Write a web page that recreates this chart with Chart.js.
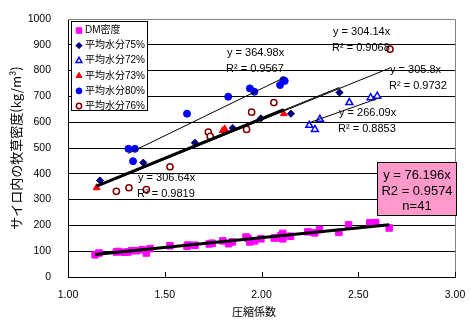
<!DOCTYPE html>
<html>
<head>
<meta charset="utf-8">
<script src="https://cdn.jsdelivr.net/npm/chart.js@4/dist/chart.umd.min.js"></script>
<style>
  html, body { margin: 0; padding: 0; background: #fff; }
</style>
</head>
<body>
<canvas id="chart-density" width="471" height="330"></canvas>
<script>
// 圧縮係数 vs サイロ内の牧草密度
const dmX = [1.14, 1.16, 1.25, 1.29, 1.31, 1.33, 1.355, 1.384, 1.405, 1.424, 1.527, 1.615, 1.62, 1.656,
  1.73, 1.745, 1.80, 1.83, 1.85, 1.92, 1.93, 1.94, 1.965, 1.997, 2.066, 2.08, 2.10, 2.11, 2.11, 2.11,
  2.15, 2.24, 2.275, 2.30, 2.40, 2.45, 2.56, 2.58, 2.59, 2.66, 1.26];
const dmY = [86, 93, 97, 96, 97, 102, 102, 106, 93, 110, 121, 119, 124, 123,
  128, 131, 140, 129, 136, 155, 150, 136, 140, 148, 151, 152, 160, 169, 148, 155,
  158, 175, 171, 184, 173, 202, 210, 210, 211, 190, 99];

const w75X = [1.165, 1.389, 1.656, 1.851, 1.997, 2.152, 2.403];
const w75Y = [374, 443, 520, 577, 615, 633, 715];

const w72X = [2.247, 2.276, 2.302, 2.454, 2.564, 2.598];
const w72Y = [588, 572, 611, 676, 695, 701];

const w73X = [1.148, 1.80, 1.81, 2.115];
const w73Y = [346, 568, 574, 633];

const w80X = [1.312, 1.336, 1.346, 1.615, 1.828, 1.94, 1.963, 2.096, 2.113, 2.12];
const w80Y = [497, 449, 497, 633, 699, 731, 718, 744, 763, 760];

const w76X = [1.25, 1.315, 1.405, 1.527, 1.725, 1.735, 1.923, 1.949, 2.064, 2.664];
const w76Y = [332, 346, 339, 427, 562, 545, 572, 639, 676, 883];

const seriesNames = ['DM密度', '平均水分75%', '平均水分72%', '平均水分73%', '平均水分80%', '平均水分76%'];
const slopes = [76.196, 305.8, 266.09, 306.64, 364.98, 304.14];
const rSquared = ['0.9574', '0.9732', '0.8853', '0.9819', '0.9567', '0.9068'];
const sampleCount = 41;

const xTicks = [1.0, 1.5, 2.0, 2.5, 3.0];

const FONT = "'Liberation Sans', Arial, 'Noto Sans CJK JP', sans-serif";
const JP_FONT = "'Noto Sans CJK JP', 'Liberation Sans', sans-serif";

const styles = [
  { pointStyle: 'rect', radius: 4.6, fill: '#FF00FF', stroke: '#FF00FF', bw: 1 },
  { pointStyle: 'rectRot', radius: 3.6, fill: '#000080', stroke: '#000080', bw: 1 },
  { pointStyle: 'triangle', radius: 4, fill: '#FFFFFF', stroke: '#0000FF', bw: 1.5 },
  { pointStyle: 'triangle', radius: 4, fill: '#FF0000', stroke: '#FF0000', bw: 1 },
  { pointStyle: 'circle', radius: 3.5, fill: '#0000FF', stroke: '#0000FF', bw: 1 },
  { pointStyle: 'circle', radius: 3.1, fill: '#FFFFFF', stroke: '#800000', bw: 1.5 }
];
const trendWidths = [3, 1, 1, 3, 1, 1];

const allX = [dmX, w75X, w72X, w73X, w80X, w76X];
const allY = [dmY, w75Y, w72Y, w73Y, w80Y, w76Y];

function toPoints(xs, ys) {
  return xs.map((x, i) => ({ x, y: ys[i] }));
}

// linear fit through the origin, drawn across the series' x range
function trendPoints(xs, slope) {
  const lo = Math.min(...xs), hi = Math.max(...xs);
  return [{ x: lo, y: slope * lo }, { x: hi, y: slope * hi }];
}

const datasets = [];
allX.forEach((xs, i) => {
  const s = styles[i];
  datasets.push({
    label: seriesNames[i], data: toPoints(xs, allY[i]), order: 2,
    pointStyle: s.pointStyle, pointRadius: s.radius, pointBackgroundColor: s.fill,
    pointBorderColor: s.stroke, pointBorderWidth: s.bw, showLine: false
  });
  datasets.push({
    label: seriesNames[i] + ' trend', data: trendPoints(xs, slopes[i]), order: 1,
    showLine: true, borderColor: '#000', borderWidth: trendWidths[i], pointRadius: 0, fill: false
  });
});

// equation labels: [series index, left, center y of first line]
const eqLabels = [
  [5, 333, 32],
  [4, 227, 53],
  [1, 390, 70],
  [2, 339, 113],
  [3, 138, 178]
];

const overlay = {
  id: 'overlay',
  afterDraw(chart) {
    const { ctx, chartArea: a, scales: { x } } = chart;
    ctx.save();

    // top / right frame
    ctx.strokeStyle = '#808080';
    ctx.lineWidth = 1;
    ctx.beginPath();
    ctx.moveTo(a.left, a.top + 0.5);
    ctx.lineTo(a.right + 0.5, a.top + 0.5);
    ctx.lineTo(a.right + 0.5, a.bottom);
    ctx.stroke();

    // inner tick marks on the x axis
    ctx.strokeStyle = '#000';
    ctx.beginPath();
    xTicks.forEach(v => {
      const px = Math.round(x.getPixelForValue(v)) + 0.5;
      ctx.moveTo(px, a.bottom);
      ctx.lineTo(px, a.bottom - 5);
    });
    ctx.stroke();

    // x axis title
    ctx.fillStyle = '#000';
    ctx.font = '11px ' + JP_FONT;
    ctx.textAlign = 'center';
    ctx.textBaseline = 'middle';
    ctx.fillText('圧縮係数', 254, 312);

    // trendline equations
    ctx.font = '11px ' + FONT;
    ctx.textAlign = 'left';
    eqLabels.forEach(([i, lx, ly]) => {
      ctx.fillText('y = ' + slopes[i] + 'x', lx, ly);
      ctx.fillText('R² = ' + rSquared[i], lx - 1, ly + 16);
    });

    // DM fit box
    ctx.fillStyle = '#FF99CC';
    ctx.fillRect(377, 162, 80, 54);
    ctx.strokeStyle = '#000';
    ctx.strokeRect(377.5, 162.5, 79, 53);
    ctx.fillStyle = '#000';
    ctx.font = '13px ' + FONT;
    ctx.textAlign = 'center';
    ctx.fillText('y = ' + slopes[0] + 'x', 417, 175);
    ctx.fillText('R2 = ' + rSquared[0], 417, 191);
    ctx.fillText('n=' + sampleCount, 417, 206);

    // legend
    ctx.fillStyle = '#fff';
    ctx.fillRect(71, 21, 77, 90);
    ctx.strokeStyle = '#000';
    ctx.strokeRect(71.5, 21.5, 76, 89);
    ctx.font = '10px ' + FONT;
    ctx.textAlign = 'left';
    seriesNames.forEach((name, i) => {
      const cy = 30.5 + i * 15.1;
      const s = styles[i];
      ctx.fillStyle = s.fill;
      ctx.strokeStyle = s.stroke;
      ctx.lineWidth = s.bw;
      Chart.helpers.drawPoint(ctx, { pointStyle: s.pointStyle, radius: s.radius * 0.85, rotation: 0, borderWidth: s.bw }, 79, cy);
      ctx.fillStyle = '#000';
      ctx.fillText(name, 85, cy);
    });

    ctx.restore();
  }
};

new Chart(document.getElementById('chart-density').getContext('2d'), {
  type: 'scatter',
  data: { datasets },
  options: {
    responsive: false,
    animation: false,
    layout: { padding: { left: 0, right: 16, top: 19, bottom: 0 } },
    plugins: { legend: { display: false }, tooltip: { enabled: false } },
    scales: {
      x: {
        type: 'linear', min: 1, max: 3,
        afterBuildTicks: scale => { scale.ticks = xTicks.map(v => ({ value: v })); },
        ticks: { callback: v => v.toFixed(2), color: '#000', padding: 12, font: { family: FONT, size: 10.5 }, maxRotation: 0 },
        grid: { display: false, drawTicks: false },
        border: { color: '#000', width: 1 },
        afterFit: scale => { scale.height = 53; scale.paddingLeft = 0; scale.paddingRight = 0; }
      },
      y: {
        min: 0, max: 1000,
        ticks: { stepSize: 100, callback: v => String(v), color: '#000', padding: 17, font: { family: FONT, size: 10.5 } },
        grid: { color: c => (c.tick && c.tick.value === 1000 ? '#808080' : '#000'), lineWidth: 1, drawTicks: false },
        border: { color: '#000', width: 1 },
        title: {
          display: true, text: 'サイロ内の牧草密度(kg/m³)', color: '#000',
          font: { family: JP_FONT, size: 13 }, padding: { top: 8, bottom: 0 }
        },
        afterFit: scale => { scale.width = 68; scale.paddingTop = 0; scale.paddingBottom = 0; }
      }
    }
  },
  plugins: [overlay]
});
</script>
</body>
</html>
